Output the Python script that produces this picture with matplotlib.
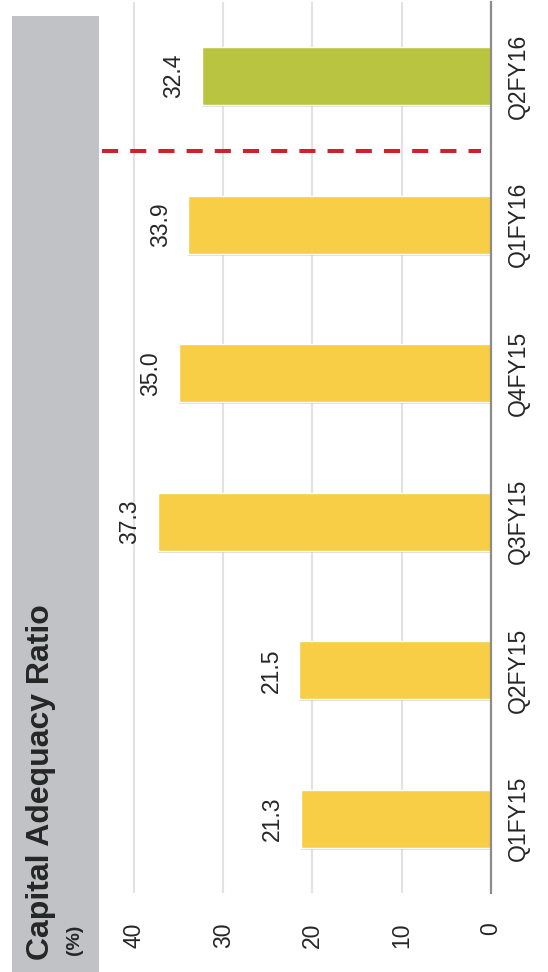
import matplotlib
matplotlib.use('Agg')
import matplotlib.pyplot as plt
import matplotlib.patheffects as pe
from matplotlib.patches import Rectangle
import numpy as np

plt.rcParams['font.family'] = ['Liberation Sans', 'DejaVu Sans']

# data
quarters = ['Q1FY15', 'Q2FY15', 'Q3FY15', 'Q4FY15', 'Q1FY16', 'Q2FY16']
car = [21.3, 21.5, 37.3, 35.0, 33.9, 32.4]
bar_colors = ['#f7ce46', '#f7ce46', '#f7ce46', '#f7ce46', '#f7ce46', '#b9c540']
value_ticks = [0, 10, 20, 30, 40]

text_color = '#262626'

fig = plt.figure(figsize=(5.48, 9.72), dpi=100)

# grey title strip on the left
fig.patches.append(Rectangle((12 / 548, 0), 87 / 548, 1 - 16 / 972,
                             transform=fig.transFigure, facecolor='#c1c2c5',
                             edgecolor='none', zorder=0))
fig.text(41 / 548, 1 - 960 / 972, 'Capital Adequacy Ratio', rotation=90,
         ha='center', va='bottom', fontsize=23, fontweight='bold', color=text_color)
fig.text(75 / 548, 1 - 955 / 972, '(%)', rotation=90,
         ha='center', va='bottom', fontsize=14, fontweight='bold', color=text_color)

ax = fig.add_axes([100 / 548, 79 / 972, 391 / 548, 891 / 972])
ax.patch.set_alpha(0)

index = np.arange(len(quarters))
bars = ax.barh(index, car, height=0.39, color=bar_colors, edgecolor='white',
               linewidth=1, zorder=3)
for b in bars:
    b.set_path_effects([pe.SimplePatchShadow(offset=(0, -1.5), shadow_rgbFace='#999999', alpha=0.35),
                        pe.Normal()])

for i, v in enumerate(car):
    ax.annotate(f'{v:.1f}', xy=(v, i), xytext=(-12, 0), textcoords='offset points',
                rotation=90, ha='right', va='center', fontsize=16.5, color=text_color)

# separator between last year and current quarter
ax.plot([43.55, 1.1], [4.5, 4.5], color='#d0202e', linewidth=2.9,
        linestyle=(0, (4, 3)), dash_capstyle='butt', zorder=4)

ax.set_xlim(43.8, 0)
ax.set_ylim(-0.5, 5.5)

ax.set_xticks(value_ticks)
ax.set_xticklabels([str(t) for t in value_ticks], rotation=90, fontsize=16.5, color=text_color)
ax.tick_params(axis='x', length=0, pad=21)

ax.yaxis.tick_right()
ax.set_yticks(index)
ax.set_yticklabels(quarters, rotation=90, va='center', fontsize=16.5, color=text_color)
ax.tick_params(axis='y', length=0, pad=11.5)

ax.grid(axis='x', color='#e2e2e2', linewidth=1.5, zorder=0)
ax.set_axisbelow(True)

for side in ['top', 'bottom', 'left']:
    ax.spines[side].set_visible(False)
ax.spines['right'].set_color('#8c8c8c')
ax.spines['right'].set_linewidth(1.6)
ax.spines['right'].set_zorder(5)

fig.savefig('out.png', dpi=100)
